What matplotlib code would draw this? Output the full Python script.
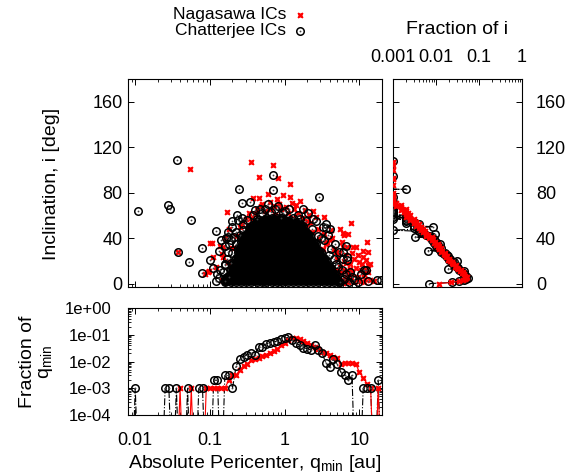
#!/usr/bin/env python3
"""Pericenter vs inclination scatter with marginal fractions (Nagasawa vs Chatterjee ICs)."""

import matplotlib
matplotlib.use("Agg")
import matplotlib.pyplot as plt
from matplotlib.lines import Line2D
from matplotlib.ticker import FixedLocator, FuncFormatter, LogLocator, NullFormatter

plt.rcParams["font.family"] = ["Liberation Sans", "DejaVu Sans"]
plt.rcParams["mathtext.fontset"] = "custom"
plt.rcParams["mathtext.rm"] = "Liberation Sans"

# ---- scatter: isolated points (q_min [au], i [deg]) ----
nag_pts = [
    (0.054, 100.5), (0.353, 107), (0.45, 93.5), (0.69, 104), (0.81, 92.5), (1.16, 87.5),
    (0.17, 63), (0.037, 28), (0.38, 75), (0.45, 75), (0.5, 70), (0.63, 72), (0.72, 68),
    (0.9, 66), (1.05, 67.5), (1.18, 76), (1.25, 71), (1.35, 66), (1.6, 73), (1.5, 62),
    (1.85, 64.5), (2.4, 64), (0.55, 64), (0.42, 66), (0.33, 62), (0.95, 78), (1.1, 62),
    (1.3, 58), (1.7, 58), (2.0, 55), (2.2, 53), (2.6, 59), (2.8, 48), (3.3, 44), (3.3, 58.7),
    (0.85, 70), (0.6, 79), (0.75, 60), (1.45, 52), (1.9, 50), (2.3, 45), (0.3, 57), (0.27, 52),
    (7.8, 53), (6.0, 44.5), (6.3, 43), (3.7, 36.7), (4.3, 40), (4.0, 38), (6.8, 32), (6.0, 32),
    (4.9, 28), (5.3, 26.7), (3.6, 35), (4.5, 30), (5.8, 37), (5.0, 22), (6.5, 25), (7.0, 44),
    (2.9, 40), (3.2, 30), (4.2, 47), (5.5, 48), (12.5, 37), (9.1, 32), (8.3, 32), (12.8, 28),
    (11.3, 28.7), (12.3, 20.5), (13.0, 16), (13.9, 17), (9.5, 25), (10.0, 19), (8.5, 22),
    (11.0, 23), (9.0, 14), (10.5, 12), (11.5, 8), (12.0, 4), (14.0, 3), (9.5, 6), (8.0, 9),
    (13.0, 10), (10.0, 2), (8.5, 1), (11.5, 1.5), (15.5, 2), (7.5, 17), (8.0, 27), (10.8, 17),
    (12.2, 12), (5.5, 15), (6.2, 12), (6.8, 8), (7.2, 4), (5.8, 3), (6.5, 18), (7.5, 13),
    (7.0, 1), (5.2, 7), (6.0, 0.8), (7.8, 6), (4.8, 12), (5.5, 1), (6.5, 4), (7.0, 10),
    (6.2, 20), (5.6, 10), (0.099, 36), (0.108, 36), (0.135, 33), (0.143, 26), (0.111, 23),
    (0.095, 10), (0.097, 10.8), (0.143, 3), (0.2, 31), (0.176, 19), (0.25, 7), (0.15, 23),
    (0.15, 32), (0.12, 15), (0.16, 40), (0.18, 48), (0.22, 42), (0.085, 8), (0.25, 50),
    (0.35, 58), (1.6, 40), (2.5, 25), (3.5, 15), (4.5, 5), (0.2, 12), (2.0, 35), (3.0, 20),
    (4.0, 10), (0.48, 68), (0.66, 66), (0.78, 74), (1.4, 69), (2.1, 60), (0.4, 61),
]
chat_pts = [
    (0.011, 63.7), (0.036, 108.6), (0.0275, 69), (0.029, 65.5), (0.055, 55.8), (0.037, 27.8),
    (0.053, 19), (0.079, 31.4), (0.077, 9.7), (0.12, 46), (0.133, 28.7), (0.123, 8.8),
    (0.135, 12.3), (0.158, 17.6), (0.165, 40), (0.173, 45), (0.176, 41), (0.18, 35),
    (0.176, 28), (0.18, 6), (0.158, 16), (0.21, 41), (0.24, 55.8), (0.31, 55.8), (0.244, 83),
    (0.264, 71), (0.34, 72), (0.70, 95.4), (0.70, 82), (0.4, 65), (0.46, 66), (0.81, 68),
    (1.76, 66), (2.06, 61.7), (1.3, 58), (2.9, 76.3), (3.6, 48.5), (3.6, 52), (2.3, 47.6),
    (3.1, 40.5), (4.7, 34.6), (6.6, 33.5), (5.3, 28), (6.0, 28), (6.8, 23.5), (6.0, 22),
    (4.9, 17.6), (12.3, 12.3), (10.4, 8.2), (11.6, 11.7), (7.9, 5.8), (12.8, 2.3), (17.1, 3),
    (19.2, 3.5), (5.5, 1), (7.2, 1.5), (6.8, 20.5), (0.2, 50), (0.22, 45), (0.28, 52),
    (0.6, 70), (0.5, 62), (1.0, 64), (1.5, 60), (0.9, 58),
    (0.14, 38), (0.16, 33), (0.19, 38), (0.2, 27), (0.17, 22), (0.19, 18), (0.15, 10),
    (0.13, 5), (0.2, 55), (0.23, 60), (0.27, 58), (0.22, 35), (0.25, 43), (0.28, 47),
    (0.16, 2), (0.12, 2), (0.11, 14), (0.1, 21), (2.6, 55), (3.2, 50), (2.8, 42), (3.8, 43),
    (4.2, 30), (3.9, 25), (4.5, 22), (5.2, 15), (5.8, 12), (6.5, 8), (6.2, 4), (8.5, 3),
    (9.5, 1.5), (7.5, 10), (4.0, 48), (2.4, 57), (3.4, 38), (0.55, 66), (0.66, 63),
    (0.75, 66), (0.95, 62), (1.15, 66), (0.38, 60), (0.42, 57), (1.6, 57), (1.9, 55),
]
# dense core of the Chatterjee cloud: rows (i, q from, q to, grid) on two offset q grids
core_qa = [0.10, 0.117, 0.138, 0.16, 0.19, 0.22, 0.26, 0.30, 0.355, 0.42, 0.49, 0.57, 0.67,
           0.79, 0.93, 1.09, 1.28, 1.5, 1.75, 2.05, 2.4, 2.8, 3.3, 3.9, 4.6, 5.4]
core_qb = [0.108, 0.127, 0.15, 0.175, 0.205, 0.24, 0.28, 0.33, 0.385, 0.45, 0.53, 0.62, 0.73,
           0.86, 1.0, 1.18, 1.38, 1.62, 1.9, 2.2, 2.6, 3.05, 3.6, 4.2, 4.95]
core_rows = [
    (1.5, 0.16, 5.4, "a"), (3.25, 0.16, 5.4, "b"), (5, 0.16, 5.0, "a"),
    (6.75, 0.175, 5.0, "b"), (8.5, 0.175, 4.6, "a"), (10.25, 0.19, 4.6, "b"),
    (12, 0.19, 4.3, "a"), (13.75, 0.19, 4.2, "b"), (15.5, 0.2, 4.0, "a"),
    (17.25, 0.2, 3.9, "b"), (19, 0.21, 3.7, "a"), (20.75, 0.21, 3.6, "b"),
    (22.5, 0.22, 3.4, "a"), (24.25, 0.22, 3.3, "b"), (26, 0.23, 3.1, "a"),
    (27.75, 0.23, 3.05, "b"), (29.5, 0.24, 2.9, "a"), (31.25, 0.24, 2.8, "b"),
    (33, 0.25, 2.7, "a"), (34.75, 0.25, 2.6, "b"), (36.5, 0.26, 2.5, "a"),
    (38.25, 0.26, 2.4, "b"), (40, 0.27, 2.3, "a"), (41.75, 0.28, 2.2, "b"),
    (43.5, 0.29, 2.1, "a"), (45.25, 0.3, 2.05, "b"), (47, 0.31, 1.9, "a"),
    (48.75, 0.32, 1.8, "b"), (50.5, 0.34, 1.75, "a"), (52.25, 0.35, 1.62, "b"),
    (54, 0.38, 1.5, "a"), (55.75, 0.42, 1.3, "b"), (57.5, 0.5, 1.05, "a"),
]

# ---- fraction of q_min (non-empty bins only) ----
qbin_nag = [0.0398, 0.0562, 0.0891, 0.100, 0.112, 0.126, 0.141, 0.158, 0.178, 0.200, 0.224,
            0.251, 0.282, 0.316, 0.355, 0.398, 0.447, 0.501, 0.562, 0.631, 0.708, 0.794, 0.891,
            1.00, 1.12, 1.26, 1.41, 1.58, 1.78, 2.00, 2.24, 2.51, 2.82, 3.16, 3.55, 3.98, 4.47,
            5.01, 5.62, 6.31, 7.08, 7.94, 8.91, 10.0, 11.2, 12.6, 14.1, 17.8]
fq_nag = [0.001, 0.001, 0.001, 0.001, 0.001, 0.001, 0.001, 0.001, 0.002, 0.003, 0.003,
          0.005, 0.007, 0.008, 0.011, 0.012, 0.014, 0.016, 0.017, 0.02, 0.025, 0.03, 0.04,
          0.05, 0.065, 0.075, 0.075, 0.07, 0.06, 0.05, 0.042, 0.035, 0.03, 0.022, 0.02, 0.017,
          0.015, 0.014, 0.008, 0.009, 0.009, 0.009, 0.008, 0.004, 0.0025, 0.0015, 0.001, 0.001]
qbin_chat = [0.0100, 0.0251, 0.0282, 0.0355, 0.0501, 0.0708, 0.0794, 0.112, 0.126, 0.158,
             0.178, 0.200, 0.224, 0.251, 0.282, 0.316, 0.355, 0.398, 0.447, 0.501, 0.562,
             0.631, 0.708, 0.794, 0.891, 1.00, 1.12, 1.26, 1.41, 1.58, 1.78, 2.00, 2.24, 2.51,
             2.82, 3.16, 3.55, 3.98, 4.47, 5.01, 5.62, 6.31, 7.08, 7.94, 11.2, 12.6, 14.1, 17.8]
fq_chat = [0.001, 0.001, 0.001, 0.001, 0.001, 0.001, 0.001, 0.002, 0.002, 0.003,
           0.003, 0.001, 0.007, 0.012, 0.015, 0.018, 0.02, 0.018, 0.034, 0.036, 0.045,
           0.05, 0.052, 0.06, 0.07, 0.075, 0.08, 0.065, 0.05, 0.04, 0.033, 0.03, 0.027, 0.04,
           0.028, 0.02, 0.009, 0.006, 0.012, 0.008, 0.004, 0.003, 0.002, 0.003, 0.001, 0.001,
           0.001, 0.002]

# ---- fraction of i (1 deg bins, non-empty only) ----
ibin_nag = list(range(0, 77)) + [78, 80, 87, 92, 93, 100, 104, 107]
fi_nag = [0.012, 0.022, 0.035, 0.042, 0.048, 0.05, 0.052, 0.047, 0.045, 0.04, 0.042, 0.036,
          0.038, 0.033, 0.03, 0.028, 0.029, 0.025, 0.023, 0.024, 0.021, 0.019, 0.02, 0.017,
          0.018, 0.016, 0.015, 0.016, 0.013, 0.014, 0.012, 0.013, 0.011, 0.012, 0.010, 0.011,
          0.009, 0.0095, 0.008, 0.0085, 0.007, 0.008, 0.006, 0.0065, 0.006, 0.005, 0.0055,
          0.0045, 0.005, 0.004, 0.0045, 0.0035, 0.004, 0.003, 0.0035, 0.003, 0.0025, 0.003,
          0.0025, 0.002, 0.0025, 0.002, 0.0022, 0.0018, 0.002, 0.0015, 0.002, 0.0015, 0.0012,
          0.0015, 0.001, 0.0012, 0.001, 0.001, 0.001, 0.001, 0.001,
          0.001, 0.001, 0.001, 0.001, 0.001, 0.001, 0.001, 0.001]
ibin_chat = list(range(0, 67)) + [68, 69, 71, 72, 76, 83, 95, 108]
fi_chat = [0.007, 0.023, 0.035, 0.045, 0.05, 0.055, 0.048, 0.05, 0.045, 0.043, 0.04, 0.045,
           0.035, 0.019, 0.033, 0.03, 0.028, 0.027, 0.024, 0.026, 0.03, 0.02, 0.021, 0.018,
           0.019, 0.0177, 0.015, 0.016, 0.013, 0.0066, 0.012, 0.013, 0.011, 0.01, 0.011,
           0.0123, 0.009, 0.01, 0.008, 0.009, 0.008, 0.0032, 0.007, 0.006, 0.0095, 0.005,
           0.004, 0.001, 0.004, 0.003, 0.0087, 0.003, 0.004, 0.002, 0.003, 0.002, 0.002, 0.001,
           0.002, 0.001, 0.002, 0.001, 0.001, 0.001, 0.001, 0.001, 0.001,
           0.001, 0.001, 0.001, 0.001, 0.001, 0.002, 0.001, 0.001]

W, H = 569, 475
FLOOR = 1e-7


def q_path(q, f, step=1.122):
    # empty bins drop to zero, which is off the bottom of the log axis
    xs, ys = [q[0] / step], [FLOOR]
    for k in range(len(q)):
        if k > 0 and q[k] / q[k - 1] > 1.2:
            xs += [q[k - 1] * step, q[k] / step]
            ys += [FLOOR, FLOOR]
        xs.append(q[k])
        ys.append(f[k])
    xs.append(q[-1] * step)
    ys.append(FLOOR)
    return xs, ys


def i_path(ib, f):
    xs, ys = [], []
    for k in range(len(ib)):
        if k > 0 and ib[k] - ib[k - 1] > 1:
            xs += [FLOOR, FLOOR]
            ys += [ib[k - 1] + 1, ib[k] - 1]
        xs.append(f[k])
        ys.append(ib[k])
    xs.append(FLOOR)
    ys.append(ib[-1] + 1)
    return xs, ys


def red_marks(ax, x, y, z=2):
    ax.plot(x, y, ls="none", marker="X", ms=5.0, mfc="red", mec="none", zorder=z)


def rings(ax, x, y, z=3):
    ax.plot(x, y, ls="none", marker="o", ms=5.4, mfc="none", mec="black", mew=1.1, zorder=z)


def dots(ax, x, y, z=3):
    ax.plot(x, y, ls="none", marker="o", ms=1.3, mfc="#444444", mec="none", zorder=z)


def black_marks(ax, x, y, z=3):
    rings(ax, x, y, z)
    dots(ax, x, y, z)


def style(ax, size=13):
    for s in ax.spines.values():
        s.set_linewidth(0.8)
    ax.tick_params(which="both", direction="in", top=True, right=True, labelsize=size)
    ax.tick_params(which="major", length=4, width=0.7)
    ax.tick_params(which="minor", length=2, width=0.6)


def axes_px(fig, left, top, right, bottom):
    return fig.add_axes([left / W, 1 - bottom / H, (right - left) / W, (bottom - top) / H])


def main() -> None:
    fig = plt.figure(figsize=(W / 100, H / 100), dpi=100)
    ax = axes_px(fig, 128, 79, 382, 287)
    ax_i = axes_px(fig, 393, 79, 522, 287)
    ax_q = axes_px(fig, 128, 308, 382, 415)

    # main scatter
    core_q, core_i = [], []
    for inc, q_lo, q_hi, grid in core_rows:
        for q in (core_qa if grid == "a" else core_qb):
            if q_lo <= q <= q_hi:
                core_q.append(q)
                core_i.append(inc)
    nq, ni = zip(*nag_pts)
    cq, ci = zip(*chat_pts)
    red_marks(ax, nq, ni)
    # overlapping circles in the core merge into solid black
    ax.plot(core_q, core_i, ls="none", marker="o", ms=4.6, mfc="black", mec="none", zorder=2.9)
    rings(ax, core_q, core_i)
    black_marks(ax, cq, ci, z=3.1)
    ax.set_xscale("log")
    ax.set_xlim(0.008, 20)
    ax.set_ylim(-3, 180)
    ax.yaxis.set_major_locator(FixedLocator([0, 40, 80, 120, 160]))
    ax.xaxis.set_major_formatter(NullFormatter())
    ax.xaxis.set_minor_formatter(NullFormatter())
    style(ax)
    ax.tick_params(axis="y", pad=4)

    # fraction of i (right)
    x, y = i_path(ibin_chat, fi_chat)
    ax_i.plot(x, y, color="black", ls="-.", lw=0.8, zorder=2)
    black_marks(ax_i, fi_chat, ibin_chat, z=3)
    x, y = i_path(ibin_nag, fi_nag)
    ax_i.plot(x, y, color="red", lw=0.8, zorder=4)
    red_marks(ax_i, fi_nag, ibin_nag, z=5)
    ax_i.set_xscale("log")
    ax_i.set_xlim(0.001, 1)
    ax_i.set_ylim(-3, 180)
    ax_i.yaxis.set_major_locator(FixedLocator([0, 40, 80, 120, 160]))
    ax_i.xaxis.set_major_locator(LogLocator(base=10, numticks=10))
    ax_i.xaxis.set_major_formatter(FuncFormatter(lambda v, p: f"{v:g}"))
    ax_i.xaxis.set_minor_formatter(NullFormatter())
    style(ax_i)
    ax_i.tick_params(bottom=False, labelbottom=False, labeltop=True, labelleft=False,
                     labelright=True, which="both")
    ax_i.tick_params(axis="x", pad=9)
    ax_i.tick_params(axis="y", pad=10)

    # fraction of q_min (bottom)
    x, y = q_path(qbin_chat, fq_chat)
    ax_q.plot(x, y, color="black", ls="-.", lw=0.8, zorder=2)
    x, y = q_path(qbin_nag, fq_nag)
    ax_q.plot(x, y, color="red", lw=0.8, zorder=2)
    red_marks(ax_q, qbin_nag, fq_nag, z=3)
    black_marks(ax_q, qbin_chat, fq_chat, z=4)
    ax_q.set_xscale("log")
    ax_q.set_yscale("log")
    ax_q.set_xlim(0.008, 20)
    ax_q.set_ylim(1e-4, 1)
    ax_q.yaxis.set_major_locator(FixedLocator([1e-4, 1e-3, 1e-2, 1e-1, 1]))
    ax_q.yaxis.set_minor_locator(LogLocator(base=10, subs=range(2, 10), numticks=10))
    ax_q.yaxis.set_major_formatter(FuncFormatter(lambda v, p: f"{v:.0e}"))
    ax_q.yaxis.set_minor_formatter(NullFormatter())
    ax_q.xaxis.set_major_formatter(FuncFormatter(lambda v, p: f"{v:g}"))
    ax_q.xaxis.set_minor_formatter(NullFormatter())
    style(ax_q, size=12)
    ax_q.tick_params(axis="y", pad=12)
    ax_q.tick_params(axis="x", pad=12, labelsize=13)

    # labels
    fig.text(52 / W, 1 - 184 / H, "Inclination, i [deg]", rotation=90, ha="center",
             va="center", fontsize=14)
    fig.text(37 / W, 1 - 362 / H, "Fraction of\nq$_{\\mathrm{min}}$", rotation=90, ha="center",
             va="center", fontsize=14, linespacing=1.0)
    fig.text(255 / W, 1 - 463 / H, "Absolute Pericenter, q$_{\\mathrm{min}}$ [au]",
             ha="center", va="center", fontsize=14)
    fig.text(457 / W, 1 - 30 / H, "Fraction of i", ha="center", va="center", fontsize=14)

    # key
    fig.text(286 / W, 1 - 15 / H, "Nagasawa ICs", ha="right", va="center", fontsize=12.5)
    fig.text(286 / W, 1 - 31 / H, "Chatterjee ICs", ha="right", va="center", fontsize=12.5)
    fig.add_artist(Line2D([300 / W], [1 - 15 / H], transform=fig.transFigure, ls="none",
                          marker="X", ms=5.0, mfc="red", mec="none"))
    fig.add_artist(Line2D([300 / W], [1 - 31 / H], transform=fig.transFigure, ls="none",
                          marker="o", ms=5.4, mfc="none", mec="black", mew=1.1))
    fig.add_artist(Line2D([300 / W], [1 - 31 / H], transform=fig.transFigure, ls="none",
                          marker="o", ms=1.3, mfc="#444444", mec="none"))

    fig.savefig("out.png", dpi=100)
    plt.close(fig)


if __name__ == "__main__":
    main()
